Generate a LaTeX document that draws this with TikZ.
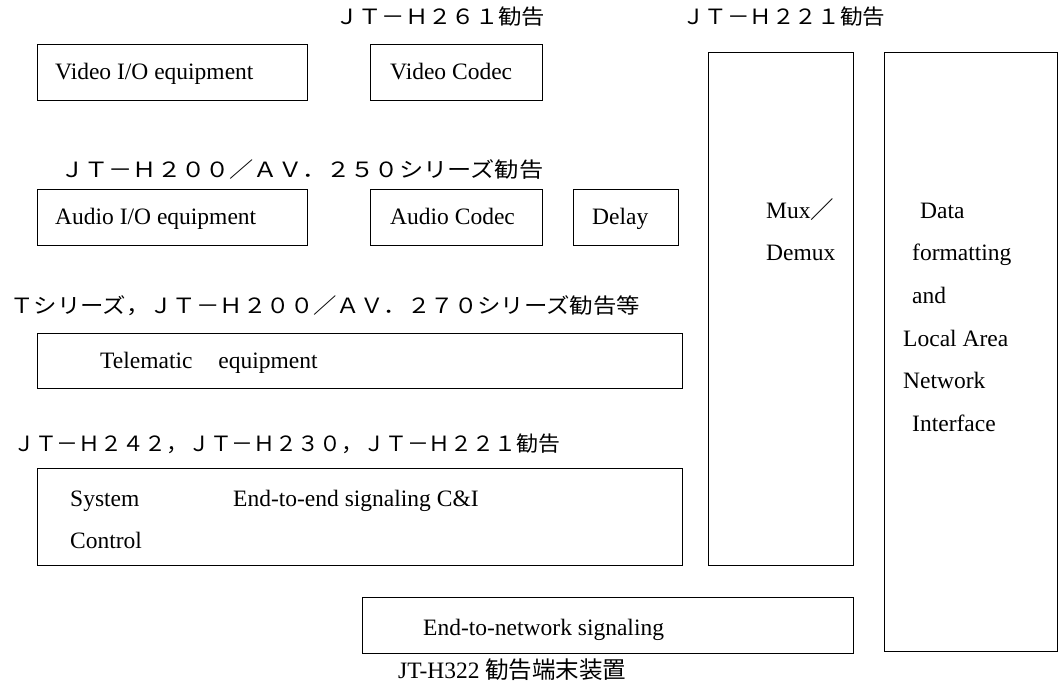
\documentclass[tikz,border=0pt]{standalone}
\usepackage{fontspec}
\setmainfont{Liberation Serif}
\newfontfamily\jfont{Noto Sans CJK JP}
\newcommand\fitto[2]{\resizebox{#1}{\height}{#2}}
\tikzset{
  blk/.style={draw, line width=1.3pt, anchor=north west, inner sep=0pt},
  lbl/.style={anchor=base west, inner sep=0pt, font=\fontsize{23.5}{28}\selectfont},
  jlbl/.style={anchor=base west, inner sep=0pt, font=\jfont\fontsize{21}{26}\selectfont},
}
\begin{document}
\begin{tikzpicture}[x=1pt,y=-1pt]
\useasboundingbox (0,0) rectangle (1059,684);

% recommendation labels
\node[jlbl] (l261) at (335,25) {\fitto{210pt}{ＪＴ－Ｈ２６１勧告}};
\node[jlbl] (l221) at (682,25) {\fitto{203pt}{ＪＴ－Ｈ２２１勧告}};
\node[jlbl] (l250) at (60,178) {\fitto{483pt}{ＪＴ－Ｈ２００／ＡＶ．２５０シリーズ勧告}};
\node[jlbl] (l270) at (10,313) {\fitto{630pt}{Ｔシリーズ，ＪＴ－Ｈ２００／ＡＶ．２７０シリーズ勧告等}};
\node[jlbl] (l242) at (13,451) {\fitto{547pt}{ＪＴ－Ｈ２４２，ＪＴ－Ｈ２３０，ＪＴ－Ｈ２２１勧告}};

% video row
\node[blk, minimum width=270pt, minimum height=56pt] (vio) at (37,44) {};
\node[lbl] (viot) at (55,80) {Video I/O equipment};
\node[blk, minimum width=172pt, minimum height=56pt] (vcod) at (370,44) {};
\node[lbl] (vcodt) at (390,80) {Video Codec};

% audio row
\node[blk, minimum width=270pt, minimum height=56pt] (aio) at (37,189) {};
\node[lbl] (aiot) at (55,225) {Audio I/O equipment};
\node[blk, minimum width=172pt, minimum height=56pt] (acod) at (370,189) {};
\node[lbl] (acodt) at (390,225) {Audio Codec};
\node[blk, minimum width=105pt, minimum height=56pt] (dly) at (573,189) {};
\node[lbl] (dlyt) at (592,225) {Delay};

% telematic
\node[blk, minimum width=645pt, minimum height=55pt] (tel) at (37,333) {};
\node[lbl] (telt) at (100,368) {Telematic\hspace{1.1em}equipment};

% system control
\node[blk, minimum width=645pt, minimum height=97pt] (sys) at (37,468) {};
\node[lbl] (syst1) at (70,506) {System};
\node[lbl] (syst2) at (70,548) {Control};
\node[lbl] (e2e) at (233,506) {End-to-end signaling C\&I};

% mux / demux
\node[blk, minimum width=145pt, minimum height=513pt] (mux) at (708,52) {};
\node[lbl] (muxt1) at (766,219) {Mux{\jfont ／}};
\node[lbl] (muxt2) at (766,261) {Demux};

% data formatting and LAN interface
\node[blk, minimum width=173pt, minimum height=599pt] (lan) at (884,52) {};
\node[lbl] (lant1) at (920,219) {Data};
\node[lbl] (lant2) at (912,261) {formatting};
\node[lbl] (lant3) at (912,303) {and};
\node[lbl] (lant4) at (903,346) {Local Area};
\node[lbl] (lant5) at (903,388) {Network};
\node[lbl] (lant6) at (912,431) {Interface};

% end-to-network signaling
\node[blk, minimum width=491pt, minimum height=56pt] (e2n) at (362,597) {};
\node[lbl] (e2nt) at (423,635) {End-to-network signaling};

% caption
\node[lbl] (cap) at (398,678) {JT-H322 {\jfont 勧告端末装置}};
\end{tikzpicture}
\end{document}
